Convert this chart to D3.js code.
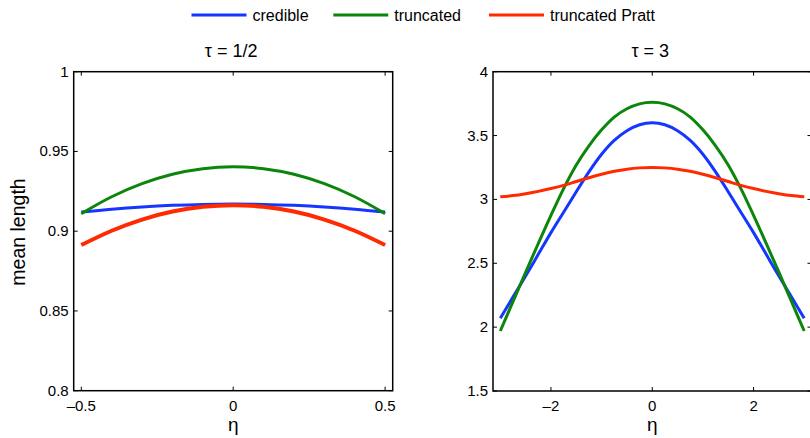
<!DOCTYPE html>
<html>
<head>
<meta charset="utf-8">
<script src="https://d3js.org/d3.v7.min.js"></script>
<style>
  body { margin: 0; background: #fff; }
  svg { display: block; font-family: "Liberation Sans", Arial, Helvetica, sans-serif; }
</style>
</head>
<body>
<div id="container"></div>
<script>
// series names and colours
var seriesNames = ["credible", "truncated", "truncated Pratt"];
var seriesColors = ["#1536ff", "#0b860b", "#ff2a00"];

// left panel: tau = 1/2
var etaLeft = [-0.5, -0.4, -0.3, -0.2, -0.1, 0, 0.1, 0.2, 0.3, 0.4, 0.5];
var credibleLeft  = [0.9120, 0.9138, 0.9152, 0.9162, 0.9168, 0.9170, 0.9168, 0.9162, 0.9152, 0.9138, 0.9120];
var truncatedLeft = [0.9110, 0.9216, 0.9298, 0.9357, 0.9392, 0.9404, 0.9392, 0.9357, 0.9298, 0.9216, 0.9110];
var prattLeft     = [0.8913, 0.9003, 0.9073, 0.9123, 0.9153, 0.9163, 0.9153, 0.9123, 0.9073, 0.9003, 0.8913];
var yTicksLeft = [0.8, 0.85, 0.9, 0.95, 1];
var xTicksLeft = [-0.5, 0, 0.5];

// right panel: tau = 3
var etaRight = [-3, -2.75, -2.5, -2.25, -2, -1.75, -1.5, -1.25, -1, -0.75, -0.5, -0.25, 0,
                0.25, 0.5, 0.75, 1, 1.25, 1.5, 1.75, 2, 2.25, 2.5, 2.75, 3];
var credibleRight  = [2.07, 2.235, 2.40, 2.57, 2.74, 2.90, 3.06, 3.216, 3.354, 3.462, 3.538, 3.585, 3.60,
                      3.585, 3.538, 3.462, 3.354, 3.216, 3.06, 2.90, 2.74, 2.57, 2.40, 2.235, 2.07];
var truncatedRight = [1.97, 2.20, 2.43, 2.655, 2.875, 3.085, 3.27, 3.42, 3.545, 3.645, 3.71, 3.748, 3.76,
                      3.748, 3.71, 3.645, 3.545, 3.42, 3.27, 3.085, 2.875, 2.655, 2.43, 2.20, 1.97];
var prattRight     = [3.020, 3.030, 3.045, 3.063, 3.085, 3.110, 3.140, 3.170, 3.197, 3.220, 3.237, 3.247, 3.250,
                      3.247, 3.237, 3.220, 3.197, 3.170, 3.140, 3.110, 3.085, 3.063, 3.045, 3.030, 3.020];
var yTicksRight = [1.5, 2, 2.5, 3, 3.5, 4];
var xTicksRight = [-2, 0, 2];

var width = 810, height = 438;

var svg = d3.select("#container")
    .append("svg")
    .attr("width", width)
    .attr("height", height);

function fmt(v) {
    return String(v).replace("-", "\u2013");
}

function panel(opts) {
    var x = d3.scaleLinear().domain(opts.xDomain).range([opts.left, opts.right]);
    var y = d3.scaleLinear().domain(opts.yDomain).range([opts.bottom, opts.top]);
    var g = svg.append("g");

    // curves
    var line = d3.line()
        .x(function(d) { return x(d[0]); })
        .y(function(d) { return y(d[1]); })
        .curve(d3.curveCatmullRom);
    opts.series.forEach(function(s, i) {
        g.append("path")
            .datum(opts.eta.map(function(e, j) { return [e, s[j]]; }))
            .attr("d", line)
            .attr("fill", "none")
            .attr("stroke", seriesColors[i])
            .attr("stroke-width", opts.widths[i])
            .attr("stroke-linejoin", "round");
    });

    // ticks inside the box, on all four sides
    var tl = 4;
    opts.xTicks.forEach(function(t) {
        g.append("line").attr("x1", x(t)).attr("x2", x(t))
            .attr("y1", opts.bottom).attr("y2", opts.bottom - tl)
            .attr("stroke", "#000").attr("stroke-width", 1);
        g.append("line").attr("x1", x(t)).attr("x2", x(t))
            .attr("y1", opts.top).attr("y2", opts.top + tl)
            .attr("stroke", "#000").attr("stroke-width", 1);
        g.append("text")
            .attr("x", x(t)).attr("y", opts.bottom + 20)
            .attr("text-anchor", "middle")
            .attr("font-size", "15px")
            .text(fmt(t));
    });
    opts.yTicks.forEach(function(t) {
        g.append("line").attr("x1", opts.left).attr("x2", opts.left + tl)
            .attr("y1", y(t)).attr("y2", y(t))
            .attr("stroke", "#000").attr("stroke-width", 1);
        g.append("line").attr("x1", opts.right).attr("x2", opts.right - tl)
            .attr("y1", y(t)).attr("y2", y(t))
            .attr("stroke", "#000").attr("stroke-width", 1);
        g.append("text")
            .attr("x", opts.left - 5).attr("y", y(t) + 5)
            .attr("text-anchor", "end")
            .attr("font-size", "15px")
            .text(t);
    });

    // box
    g.append("rect")
        .attr("x", opts.left).attr("y", opts.top)
        .attr("width", opts.right - opts.left)
        .attr("height", opts.bottom - opts.top)
        .attr("fill", "none")
        .attr("stroke", "#000")
        .attr("stroke-width", 1.5);

    // title and x label
    g.append("text")
        .attr("x", (opts.left + opts.right) / 2 - 2).attr("y", 57)
        .attr("text-anchor", "middle")
        .attr("font-size", "18px")
        .text(opts.title);
    g.append("text")
        .attr("x", x(0)).attr("y", 431)
        .attr("text-anchor", "middle")
        .attr("font-size", "19px")
        .text("\u03b7");
    return g;
}

panel({
    left: 73.7, right: 392.7, top: 71.7, bottom: 390.7,
    xDomain: [-0.525, 0.525], yDomain: [0.8, 1],
    eta: etaLeft, series: [credibleLeft, truncatedLeft, prattLeft],
    widths: [3, 3, 4],
    xTicks: xTicksLeft, yTicks: yTicksLeft,
    title: "\u03c4 = 1/2"
});

panel({
    left: 493, right: 811.5, top: 71.7, bottom: 391,
    xDomain: [-3.144, 3.144], yDomain: [1.5, 4],
    eta: etaRight, series: [credibleRight, truncatedRight, prattRight],
    widths: [3, 3, 3],
    xTicks: xTicksRight, yTicks: yTicksRight,
    title: "\u03c4 = 3"
});

// y label
svg.append("text")
    .attr("transform", "translate(25,232) rotate(-90)")
    .attr("text-anchor", "middle")
    .attr("font-size", "19.5px")
    .text("mean length");

// legend
var legendX = [191.5, 333.3, 489];
seriesNames.forEach(function(n, i) {
    svg.append("line")
        .attr("x1", legendX[i]).attr("x2", legendX[i] + 55)
        .attr("y1", 15).attr("y2", 15)
        .attr("stroke", seriesColors[i])
        .attr("stroke-width", 3.2);
    svg.append("text")
        .attr("x", legendX[i] + 61).attr("y", 20.5)
        .attr("font-size", "16px")
        .text(n);
});
</script>
</body>
</html>
